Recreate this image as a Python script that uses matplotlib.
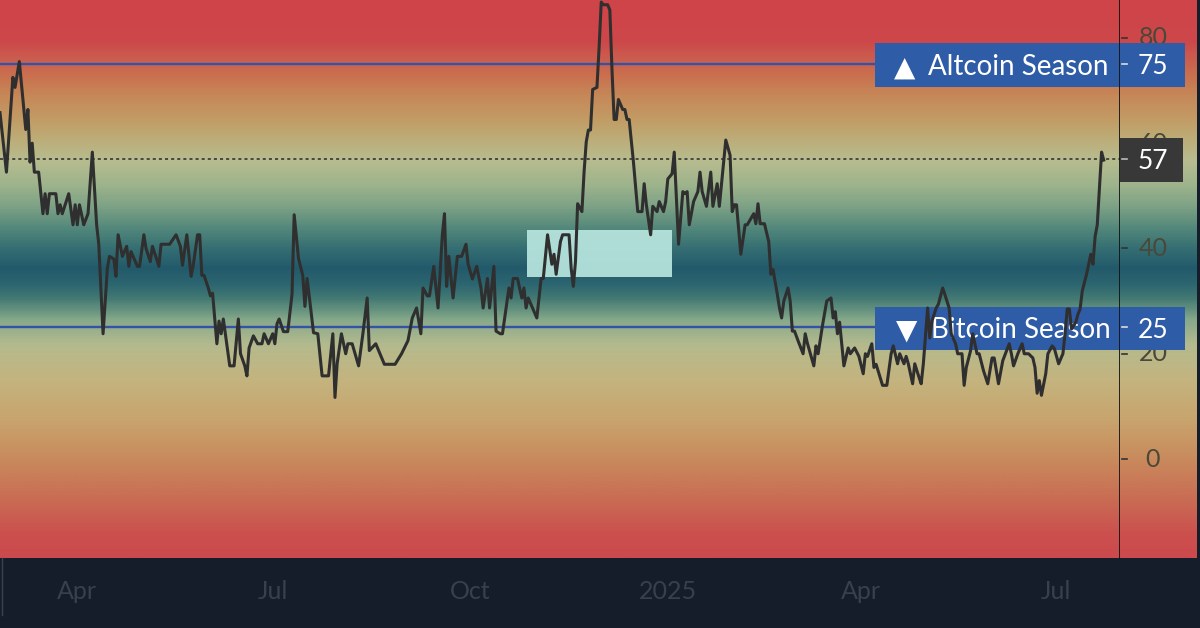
import matplotlib
matplotlib.use('Agg')
import matplotlib.pyplot as plt
import numpy as np
import pandas as pd
import matplotlib.dates as mdates
import matplotlib.transforms as mtransforms
from matplotlib.colors import LinearSegmentedColormap
from matplotlib.patches import Rectangle

# ---------------- data ----------------
start_date = '2024-02-25 03:00'
day_offset = [0,3,6,7,9,11,12,13,14,15,16,18,20,21,22,23,26,27,28,29,32,34,35,36,37,39,41,43,45,46,
              48,50,51,53,54,55,57,59,60,61,64,65,67,68,70,71,74,75,79,81,82,84,85,87,89,90,92,93,94,95,
              97,98,99,101,102,103,104,106,107,109,111,112,114,115,116,118,120,122,123,125,127,128,129,130,
              132,134,136,137,139,141,142,143,144,146,148,150,153,155,156,157,159,161,162,164,167,169,171,
              172,175,179,184,187,190,192,194,196,197,199,200,202,204,206,207,208,209,211,213,215,217,218,
              220,222,224,225,227,228,230,231,233,234,237,238,239,241,243,244,245,246,248,250,252,253,255,
              257,258,259,261,262,265,266,267,268,269,271,272,273,274,275,276,278,279,280,281,283,284,285,
              286,287,288,290,291,292,293,295,297,299,300,301,303,304,306,307,309,310,311,313,314,315,316,
              318,319,320,321,323,325,326,327,329,331,332,334,335,337,338,340,341,342,343,345,347,348,351,
              352,353,354,356,358,359,360,362,363,364,365,367,368,369,370,372,374,375,376,379,380,381,383,
              385,387,388,389,390,391,393,395,396,398,400,402,403,404,406,407,408,411,413,415,416,418,419,
              421,422,423,425,426,428,429,430,432,433,434,436,437,439,440,442,443,445,446,448,449,450,452,
              453,455,456,458,460,462,463,465,467,470,471,472,474,476,477,479,481,482,483,484,485,487,488,
              490,491,493,495,496,497,498,499,501,502,503,504,506,508,509,510,511,512,513,514]
index_value = [65.8,54.5,72.5,70.6,75.5,67,62.6,66.4,56.4,60,54.5,54.5,46.6,50.4,46.6,50.4,50.4,46.6,48.3,46.6,
               50.4,44.5,48.3,44.5,48.3,44.5,46.6,58.3,44.5,40.8,23.8,36.2,38.5,38,34.7,42.6,38.5,40.4,36.6,39.4,
               36.6,36.6,42.6,40,37.5,40.4,36.6,40.8,40.8,42,42.6,40.4,36.8,42.6,34.7,36.8,42.6,42.6,34.9,34.9,
               32.5,31,31.5,21.9,26.2,23.8,26.6,20.6,17.7,17.7,26.6,20,17.7,15.8,21.1,23.4,21.9,21.9,23.8,21.9,
               23.8,21.9,25.7,26.6,24.2,24.2,31.3,46.4,38.1,34.9,29,34.3,31,24,23.8,15.8,15.8,23.8,11.7,18.1,
               23.8,20,21.9,21.9,17.7,23.8,30.6,20.6,21.9,18,18,20,22.5,26.8,28.7,23.8,32.5,31,31,36.6,
               28.7,42.6,46.6,32.8,38.5,30.6,38.5,38.5,40.8,37,34.2,36.6,32.5,28.7,34.3,28.7,36.6,24.3,23.8,23.8,
               32.5,30.6,34.3,34.3,30.6,32.5,28.7,30.6,28.7,26.8,34.3,34.3,42.6,37,38.9,35.1,41.3,42.6,42.6,36.2,
               32.8,37.5,48.5,47,54.5,60.2,62.5,62.5,70.2,70.6,78.2,86.8,86.3,86.3,85.3,74,64.5,64.5,68.3,66.4,
               66.4,64.5,64.5,56.4,47,47,52.3,48.3,42.6,48,47,48.9,47,48.9,53.2,54.2,58.3,49.4,40.8,50.8,
               50.4,50.8,44.5,48.9,50.8,54.5,50.8,48,54.5,48,52.3,48,56.4,60.6,57.7,47,48.3,48.3,38.9,44.5,
               44.5,46.6,44.7,48.5,44.7,44.7,41.3,35.1,36,31.3,28.7,26.8,30,32.5,30,24.3,24.3,22.1,20,23.8,
               22,17.7,21.5,20,25.3,30,30.6,26.8,28,23.8,26,17.7,21.1,20,21.1,19.5,16.2,20,19.5,21.9,
               17.4,18,14,14,20,21.5,18.1,20,18.1,19.5,18.1,14.3,18.1,15.5,14.3,18.1,28.7,23,26.2,28.7,
               29.4,32.5,31.3,28.7,23.8,21.9,20,20,14,17.4,20.6,23.8,20,20,16.8,14.3,19.2,19.2,14.3,18.7,
               21.9,20,17.7,20,21.9,20,20,19.2,17.4,12.5,14.9,12.1,16.2,20,21.5,21,18.1,20,23.8,28.5,
               28.5,24.7,26,27.5,28.5,31.9,35.1,38.9,37,42.3,44.5,51.3,58.3,56.8]

altcoin_level = 75
bitcoin_level = 25
last_value = 57
y_ticks = [0, 20, 40, 60, 80]
month_ticks = ['2024-04-01', '2024-07-01', '2024-10-01', '2025-01-01', '2025-04-01', '2025-07-01']
month_labels = ['Apr', 'Jul', 'Oct', '2025', 'Apr', 'Jul']
highlight_dates = ['2024-10-27 12:00', '2025-01-03 03:00']
highlight_values = [34.5, 43.6]
x_range = ['2024-02-25 03:00', '2025-07-30 17:00']
y_range = (-18.8, 87.2)

# ---------------- styling ----------------
grad_stops = [(-18.8, '#cc4a4d'), (-14.4, '#cb504e'), (-7.8, '#c96c54'), (-0.2, '#c98a5c'),
              (7.4, '#c8a46d'), (15.0, '#c4b47f'), (21.7, '#b4ba8e'), (26.4, '#86a98a'),
              (30.2, '#477c74'), (33.1, '#2c6670'), (36.3, '#235a6b'), (39.7, '#336c72'),
              (43.5, '#4f857a'), (48.3, '#7fa386'), (52.1, '#9db38c'), (56.8, '#b7bc8f'),
              (60.6, '#bcae7a'), (64.4, '#c29d66'), (69.2, '#c68858'), (73.0, '#c9704f'),
              (76.8, '#cb5a4e'), (79.6, '#cd474a'), (87.2, '#cf4449')]
ylo, yhi = y_range
cmap = LinearSegmentedColormap.from_list(
    'bg', [((v - ylo) / (yhi - ylo), c) for v, c in grad_stops])

FONT = ['Lato', 'DejaVu Sans']
plt.rcParams['font.family'] = FONT

BG = '#161d2a'
BOX_BLUE = '#2f5ca6'
W, H = 1200, 628

fig = plt.figure(figsize=(12, 6.28), dpi=100, facecolor=BG)
plot_right = 1120
scale_right = 1197
bottom_px = 70
ax = fig.add_axes([0, bottom_px / H, plot_right / W, 1 - bottom_px / H])
ax2 = fig.add_axes([plot_right / W, bottom_px / H, (scale_right - plot_right) / W, 1 - bottom_px / H])

dates = pd.Timestamp(start_date) + pd.to_timedelta(day_offset, unit='D')
xl = [pd.Timestamp(x_range[0]), pd.Timestamp(x_range[1])]

grad = np.linspace(ylo, yhi, 800).reshape(-1, 1)
x0n, x1n = mdates.date2num(xl[0]), mdates.date2num(xl[1])
ax.imshow(grad, extent=[x0n, x1n, ylo, yhi], origin='lower', aspect='auto', cmap=cmap,
          vmin=ylo, vmax=yhi, zorder=0, interpolation='bilinear')
ax2.imshow(grad, extent=[0, 1, ylo, yhi], origin='lower', aspect='auto', cmap=cmap,
           vmin=ylo, vmax=yhi, zorder=0, interpolation='bilinear')

ax.set_xlim(x0n, x1n)
ax.set_ylim(ylo, yhi)
ax2.set_xlim(0, 1)
ax2.set_ylim(ylo, yhi)

# highlight box
hx0 = mdates.date2num(pd.Timestamp(highlight_dates[0]))
hx1 = mdates.date2num(pd.Timestamp(highlight_dates[1]))
ax.add_patch(Rectangle((hx0, highlight_values[0]), hx1 - hx0, highlight_values[1] - highlight_values[0],
                       facecolor='#b9e6df', edgecolor='none', alpha=0.92, zorder=2))

# horizontal levels
ax.axhline(altcoin_level, color='#3352a8', lw=1.7, zorder=3)
ax.axhline(bitcoin_level, color='#3352a8', lw=1.7, zorder=3)
ax.axhline(last_value, color='#2a2a2a', lw=1.1, ls=(0, (2, 2)), zorder=3)

# boxes (span plot and scale axes)
bt = mtransforms.blended_transform_factory(ax.transAxes, ax.transData)
bt2 = mtransforms.blended_transform_factory(ax2.transAxes, ax2.transData)
half = 4.15
box_left = 875 / plot_right
box_right2 = (1185 - plot_right) / (scale_right - plot_right)
for lvl in (altcoin_level, bitcoin_level):
    ax.add_patch(Rectangle((box_left, lvl - half - 0.2), 1 - box_left, 2 * half, transform=bt,
                           facecolor=BOX_BLUE, edgecolor='none', zorder=5))
    ax2.add_patch(Rectangle((0, lvl - half - 0.2), box_right2, 2 * half, transform=bt2,
                            facecolor=BOX_BLUE, edgecolor='none', zorder=5))
ax2.add_patch(Rectangle((0, last_value - half - 0.2), (1183 - plot_right) / (scale_right - plot_right),
                        2 * half, transform=bt2, facecolor='#383838', edgecolor='none', zorder=5))

ax.text(905 / plot_right, altcoin_level - 0.6, '▲', transform=bt, ha='center', va='center',
        color='white', fontsize=20, family='DejaVu Sans', zorder=6)
ax.text(928 / plot_right, altcoin_level - 0.5, 'Altcoin Season', transform=bt, ha='left', va='center',
        color='white', fontsize=20, zorder=6)
ax.text(907 / plot_right, bitcoin_level - 0.6, '▼', transform=bt, ha='center', va='center',
        color='white', fontsize=20, family='DejaVu Sans', zorder=6)
ax.text(931 / plot_right, bitcoin_level - 0.5, 'Bitcoin Season', transform=bt, ha='left', va='center',
        color='white', fontsize=20, zorder=6)

# right scale labels
lab_x = (1153 - plot_right) / (scale_right - plot_right)
tk0 = 2 / (scale_right - plot_right)
tk1 = 7 / (scale_right - plot_right)
for v in y_ticks:
    ax2.text(lab_x, v, str(v), transform=bt2, ha='center', va='center', color='#4a4838',
             fontsize=18, zorder=3)
    ax2.plot([tk0, tk1], [v, v], color='#333333', lw=1.2, zorder=3)
for v, c in ((altcoin_level, '#dddddd'), (bitcoin_level, '#dddddd'), (last_value, '#bbbbbb')):
    ax2.text(lab_x, v - 0.5, str(v), transform=bt2, ha='center', va='center', color='white',
             fontsize=19, zorder=6)
    ax2.plot([tk0, tk1], [v, v], color=c, lw=1.2, zorder=6)

# main series
ax.plot(dates, index_value, color='#2f2f2f', lw=2.2, zorder=7, solid_joinstyle='round')

# axes styling
for s in ax.spines.values():
    s.set_visible(False)
for s in ax2.spines.values():
    s.set_visible(False)
ax.spines['right'].set_visible(True)
ax.spines['right'].set_color('#141414')
ax.spines['right'].set_linewidth(1.3)
ax.spines['right'].set_zorder(8)

ax.set_yticks([])
ax.set_xticks(mdates.date2num(pd.to_datetime(month_ticks)))
ax.set_xticklabels(month_labels)
ax.tick_params(axis='x', length=0, pad=16, labelsize=18, labelcolor='#383f4d')
ax2.set_xticks([])
ax2.set_yticks([])

# thin left edge line in the lower strip
fig.add_artist(plt.Line2D([2 / W, 2 / W], [13 / H, bottom_px / H], color='#3a4252', lw=1.0))

fig.savefig('out.png', dpi=100, facecolor=BG)
